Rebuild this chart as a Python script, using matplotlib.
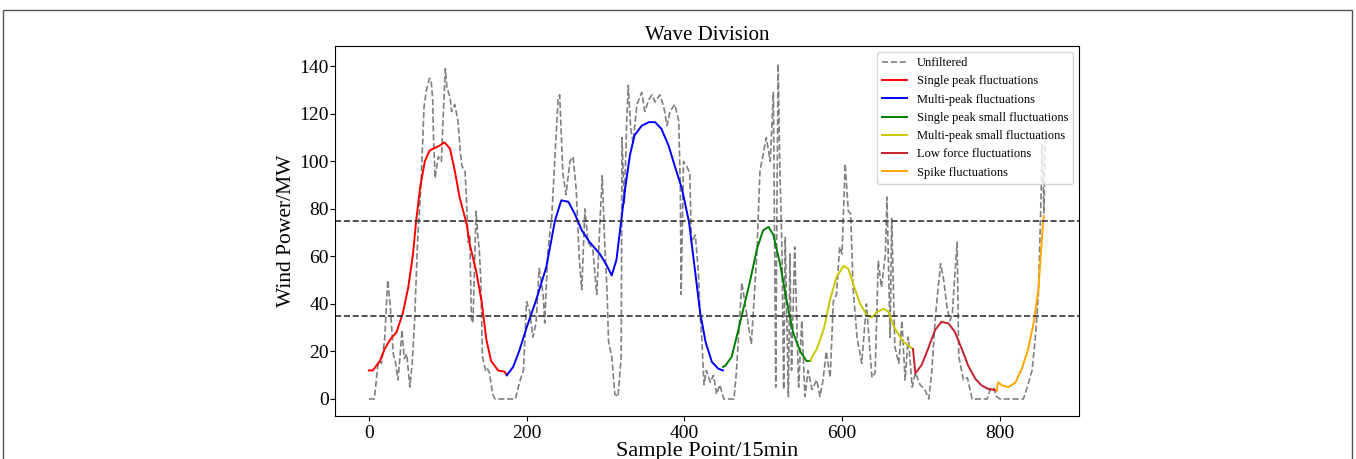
import matplotlib
matplotlib.use("Agg")
import matplotlib.pyplot as plt
from matplotlib.patches import Rectangle

plt.rcParams['font.family'] = ['Liberation Serif', 'DejaVu Serif']

# unfiltered wind power
raw_x = [0, 7, 12, 16, 20, 24, 27, 31, 34, 37, 40, 42, 45, 48, 52, 55, 58, 62, 66, 70,
         73, 77, 79, 81, 82, 84, 88, 92, 94, 97, 99, 103, 105, 109, 113, 116, 118, 122, 124, 126,
         128, 130, 132, 136, 138, 140, 142, 144, 148, 150, 153, 157, 160, 186, 191, 196, 200, 204, 208, 212,
         216, 221, 223, 227, 232, 236, 240, 242, 246, 250, 255, 259, 263, 267, 270, 274, 278, 284, 289, 293,
         296, 299, 302, 304, 308, 312, 316, 320, 321, 324, 327, 329, 332, 335, 340, 346, 350, 355, 359, 363,
         369, 374, 378, 382, 388, 393, 395, 396, 399, 403, 407, 409, 414, 418, 420, 422, 425, 428, 433, 437,
         441, 445, 450, 463, 466, 473, 479, 485, 492, 496, 500, 504, 509, 513, 516, 517, 519, 521, 524, 526,
         528, 532, 534, 536, 540, 545, 549, 553, 557, 562, 568, 572, 576, 580, 585, 589, 593, 597, 600, 604,
         608, 611, 614, 619, 625, 631, 638, 642, 646, 650, 655, 657, 661, 663, 667, 672, 676, 680, 684, 689,
         693, 699, 705, 710, 714, 718, 722, 725, 729, 733, 737, 740, 742, 746, 748, 754, 759, 765, 784, 788,
         792, 796, 800, 830, 834, 841, 845, 849, 852, 854, 856, 858]
raw_y = [0, 0, 16, 15, 25, 50, 40, 19, 15, 8, 20, 29, 17, 19, 5, 15, 33, 68, 89, 123,
         130, 135, 134, 126, 110, 93, 102, 100, 117, 139, 131, 127, 121, 124, 117, 104, 98, 96, 82, 66,
         69, 34, 32, 79, 69, 63, 50, 18, 12, 13, 11, 2, 0, 0, 7, 12, 41, 37, 26, 32,
         55, 44, 32, 62, 77, 102, 126, 128, 95, 86, 100, 102, 88, 58, 46, 80, 66, 63, 44, 74,
         94, 66, 46, 24, 18, 2, 1, 18, 110, 82, 117, 132, 114, 108, 124, 129, 121, 126, 128, 125,
         128, 123, 115, 121, 124, 117, 88, 44, 100, 98, 95, 66, 69, 53, 35, 27, 6, 12, 7, 10,
         2, 6, 0, 0, 11, 49, 36, 23, 61, 96, 103, 110, 100, 129, 5, 61, 141, 100, 61, 4,
         68, 1, 61, 12, 64, 5, 33, 1, 12, 4, 8, 1, 8, 20, 9, 41, 44, 64, 61, 99,
         79, 78, 47, 26, 15, 40, 9, 11, 58, 47, 61, 85, 26, 76, 22, 15, 33, 8, 26, 5,
         11, 6, 4, 0, 12, 33, 47, 57, 50, 39, 33, 36, 47, 66, 18, 8, 9, 0, 0, 4,
         5, 1, 0, 0, 4, 12, 25, 44, 80, 107, 78, 110]

# filtered segments
single_x = [0, 5, 14, 20, 27, 35, 43, 50, 56, 60, 65, 71, 77, 86, 90, 96, 103, 109, 115, 124,
            128, 136, 143, 149, 155, 164, 172, 175]
single_y = [12, 12, 16, 21, 25, 28, 36, 47, 61, 75, 89, 100, 104.6, 106, 106.7, 108, 105.3, 96, 85, 73.6,
            65, 54, 41, 25, 16, 12, 11.5, 10]

multi_x = [175, 183, 191, 200, 212, 225, 236, 244, 253, 261, 270, 280, 293, 302, 308, 314, 320, 325, 331, 337,
           346, 355, 363, 371, 380, 388, 397, 406, 414, 420, 427, 435, 443, 449]
multi_y = [10, 13.5, 20.5, 30, 41.5, 55.5, 75, 83.6, 83, 78, 71, 66, 61, 56, 52, 58.6, 75, 88.5, 102.5, 111,
           115, 116.5, 116.5, 113.7, 106.7, 98, 88.5, 74.5, 53, 36.6, 24, 15.6, 12.8, 12]

single_small_x = [449, 452, 460, 467, 475, 483, 492, 500, 507, 513, 522, 530, 538, 547, 555, 560]
single_small_y = [13.5, 14, 17.7, 27, 38, 49, 63, 71, 72.4, 69, 56, 41, 28, 20, 16, 16]

multi_small_x = [560, 562, 568, 577, 585, 593, 602, 608, 615, 623, 632, 638, 644, 653, 659, 665, 672, 678, 686, 690]
multi_small_y = [16, 17.7, 21, 29.6, 42, 51.3, 56, 54.8, 47.6, 40, 35, 34.4, 36.6, 38, 36.6, 31, 27, 24, 22, 21]

low_x = [690, 693, 701, 709, 718, 726, 735, 743, 752, 760, 769, 777, 785, 796]
low_y = [21, 10.8, 14.3, 21, 29, 32.5, 31.8, 28.3, 21, 14, 8.5, 5.7, 4.3, 3.6]

spike_x = [796, 798, 803, 811, 820, 828, 836, 843, 849, 852, 855, 856]
spike_y = [3.6, 7, 5.7, 5, 7, 12.7, 21, 32, 46, 60.5, 74.5, 77]

upper_level = 75
lower_level = 35

fig = plt.figure(figsize=(13.56, 4.59), dpi=100)
ax = fig.add_axes([0.247, 0.094, 0.549, 0.806])

ax.plot(raw_x, raw_y, '--', color='gray', lw=1.2, label='Unfiltered')
ax.plot(single_x, single_y, color='red', lw=1.4, label='Single peak fluctuations')
ax.plot(multi_x, multi_y, color='blue', lw=1.4, label='Multi-peak fluctuations')
ax.plot(single_small_x, single_small_y, color='green', lw=1.4, label='Single peak small fluctuations')
ax.plot(multi_small_x, multi_small_y, color='#c8c800', lw=1.4, label='Multi-peak small fluctuations')
ax.plot(low_x, low_y, color='#c8202a', lw=1.4, label='Low force fluctuations')
ax.plot(spike_x, spike_y, color='orange', lw=1.4, label='Spike fluctuations')

ax.axhline(upper_level, color='#333333', ls='--', lw=1.2)
ax.axhline(lower_level, color='#333333', ls='--', lw=1.2)

ax.set_xlim(-43, 901)
ax.set_ylim(-7.1, 148.6)
ax.set_xticks([0, 200, 400, 600, 800])
ax.set_yticks(range(0, 141, 20))
ax.tick_params(labelsize=14, pad=3)
ax.tick_params(axis='y', pad=1)
ax.set_title('Wave Division', fontsize=15, pad=4)
ax.set_xlabel('Sample Point/15min', fontsize=16, labelpad=0)
ax.set_ylabel('Wind Power/MW', fontsize=15.5, labelpad=2)
ax.legend(loc='upper right', fontsize=9)

# outer frame of the original figure
fig.patches.append(Rectangle((3 / 1356, -0.1), 1349 / 1356, 1.078, transform=fig.transFigure,
                             fill=False, edgecolor='#555555', lw=1))

fig.savefig('out.png', dpi=100)
